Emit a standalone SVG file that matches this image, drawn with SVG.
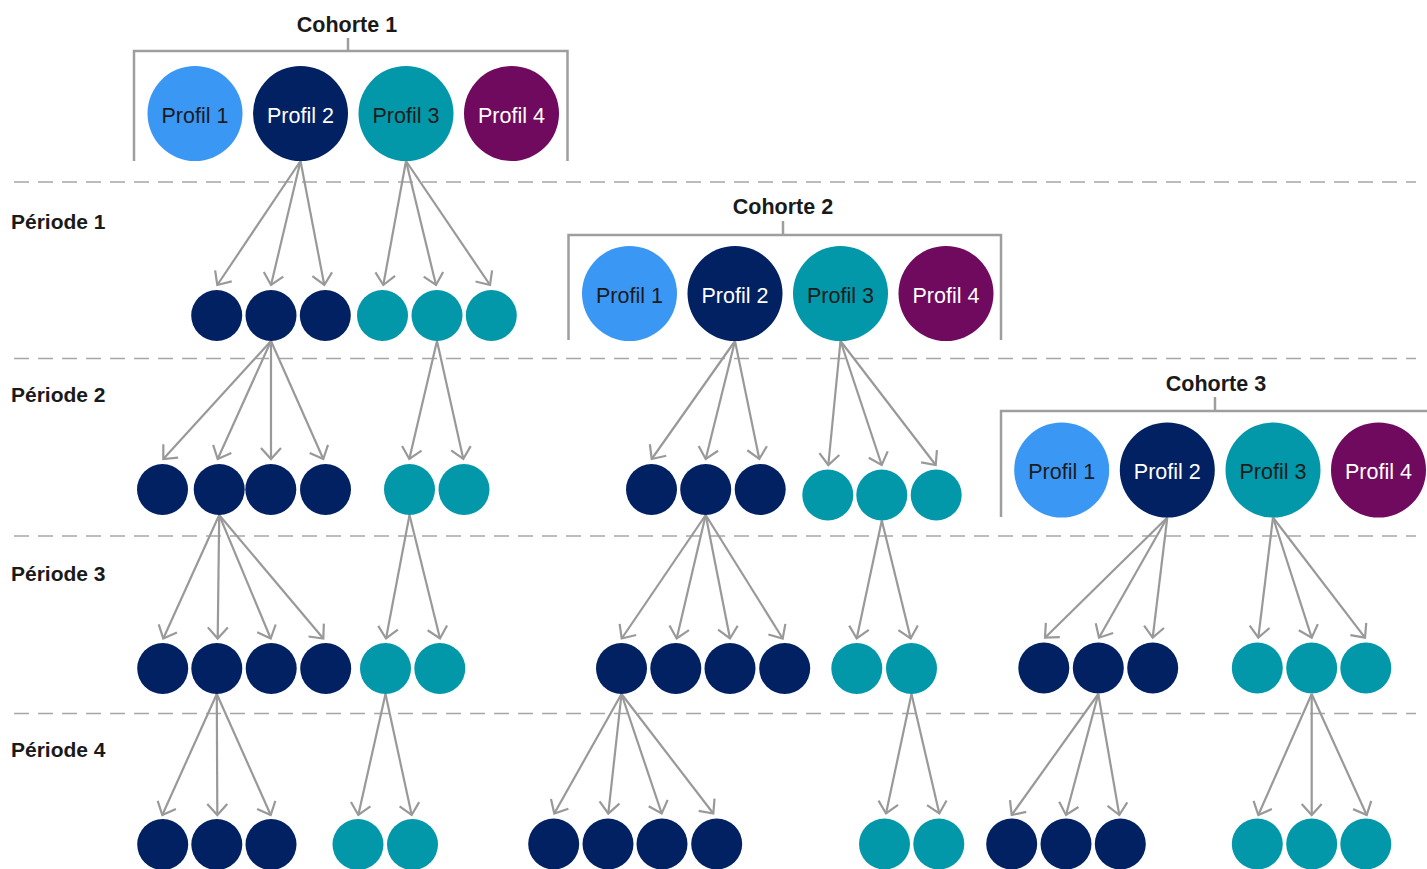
<svg xmlns="http://www.w3.org/2000/svg" width="1427" height="869" viewBox="0 0 1427 869">
<style>
.bg{fill:#ffffff}
.title{font-family:"Liberation Sans",Arial,sans-serif;font-weight:bold;font-size:21.5px;fill:#1a1a1a;text-anchor:middle}
.period{font-family:"Liberation Sans",Arial,sans-serif;font-weight:bold;font-size:21px;fill:#1a1a1a}
.lbl{font-family:"Liberation Sans",Arial,sans-serif;font-size:21.5px;text-anchor:middle}
.dk{fill:#1c1c1c}
.wt{fill:#ffffff}
.p1{fill:#3a97f4}
.p2{fill:#012162}
.p3{fill:#0297a9}
.p4{fill:#700a5e}
.sep{stroke:#a6a6a6;stroke-width:1.5;stroke-dasharray:15 9;fill:none}
.br{stroke:#9e9e9e;stroke-width:2.5;fill:none}
.ar{stroke:#999999;stroke-width:2.2;fill:none;marker-end:url(#ah)}
</style>
<defs>
<marker id="ah" markerUnits="userSpaceOnUse" viewBox="-14 -13 17 26" refX="0" refY="0" markerWidth="17" markerHeight="26" orient="auto" overflow="visible">
<path d="M-11,-10 L0,0 L-11,10" stroke="#999999" stroke-width="2.2" fill="none"/>
</marker>
</defs>
<rect class="bg" x="0" y="0" width="1427" height="869"/>

<g id="separators">
<line class="sep" x1="14" y1="182" x2="1416" y2="182"/>
<line class="sep" x1="14" y1="358.5" x2="1416" y2="358.5"/>
<line class="sep" x1="14" y1="536" x2="1416" y2="536"/>
<line class="sep" x1="14" y1="713.5" x2="1416" y2="713.5"/>
</g>

<g id="periods">
<text class="period" x="11" y="229">Période 1</text>
<text class="period" x="11" y="402">Période 2</text>
<text class="period" x="11" y="581">Période 3</text>
<text class="period" x="11" y="757">Période 4</text>
</g>

<g id="cohorte1">
<text class="title" x="347" y="31.5">Cohorte 1</text>
<path class="br" d="M348,38 V51 M134,161 V51 H567.5 V161"/>
</g>
<g id="cohorte2">
<text class="title" x="783" y="214">Cohorte 2</text>
<path class="br" d="M783,221 V235 M568.5,340 V235 H1001 V340"/>
</g>
<g id="cohorte3">
<text class="title" x="1216" y="391">Cohorte 3</text>
<path class="br" d="M1215,397 V411 M1001,517 V411 H1430"/>
</g>

<g id="connectors">
<line class="ar" x1="300.5" y1="161" x2="217.3" y2="285"/>
<line class="ar" x1="300.5" y1="161" x2="271" y2="285"/>
<line class="ar" x1="300.5" y1="161" x2="324.3" y2="285"/>
<line class="ar" x1="406" y1="161" x2="383.3" y2="285"/>
<line class="ar" x1="406" y1="161" x2="436" y2="285"/>
<line class="ar" x1="406" y1="161" x2="490" y2="285"/>

<line class="ar" x1="271" y1="341" x2="163.3" y2="459"/>
<line class="ar" x1="271" y1="341" x2="217.7" y2="459"/>
<line class="ar" x1="271" y1="341" x2="271" y2="459"/>
<line class="ar" x1="271" y1="341" x2="323.3" y2="459"/>
<line class="ar" x1="437" y1="341" x2="409.3" y2="459"/>
<line class="ar" x1="437" y1="341" x2="463.3" y2="459"/>

<line class="ar" x1="735" y1="341" x2="651.7" y2="459"/>
<line class="ar" x1="735" y1="341" x2="705.7" y2="459"/>
<line class="ar" x1="735" y1="341" x2="759.3" y2="459"/>
<line class="ar" x1="840.5" y1="341" x2="828.3" y2="465"/>
<line class="ar" x1="840.5" y1="341" x2="881.7" y2="465"/>
<line class="ar" x1="840.5" y1="341" x2="935.7" y2="465"/>

<line class="ar" x1="219.2" y1="515" x2="163.3" y2="638.5"/>
<line class="ar" x1="219.2" y1="515" x2="217.7" y2="638.5"/>
<line class="ar" x1="219.2" y1="515" x2="270.7" y2="638.5"/>
<line class="ar" x1="219.2" y1="515" x2="323.3" y2="638.5"/>
<line class="ar" x1="409.5" y1="515" x2="386" y2="638.5"/>
<line class="ar" x1="409.5" y1="515" x2="440" y2="638.5"/>

<line class="ar" x1="705.7" y1="515" x2="621.7" y2="638.5"/>
<line class="ar" x1="705.7" y1="515" x2="676.7" y2="638.5"/>
<line class="ar" x1="705.7" y1="515" x2="730" y2="638.5"/>
<line class="ar" x1="705.7" y1="515" x2="782.7" y2="638.5"/>
<line class="ar" x1="881.8" y1="520.5" x2="856.7" y2="638.5"/>
<line class="ar" x1="881.8" y1="520.5" x2="910.7" y2="638.5"/>

<line class="ar" x1="1167.3" y1="517.5" x2="1045" y2="637.7"/>
<line class="ar" x1="1167.3" y1="517.5" x2="1099" y2="637.7"/>
<line class="ar" x1="1167.3" y1="517.5" x2="1152.7" y2="637.7"/>
<line class="ar" x1="1273" y1="517.5" x2="1258.3" y2="637.7"/>
<line class="ar" x1="1273" y1="517.5" x2="1311.7" y2="637.7"/>
<line class="ar" x1="1273" y1="517.5" x2="1365" y2="637.7"/>

<line class="ar" x1="216.8" y1="694" x2="162.3" y2="815"/>
<line class="ar" x1="216.8" y1="694" x2="217.3" y2="815"/>
<line class="ar" x1="216.8" y1="694" x2="270.7" y2="815"/>
<line class="ar" x1="385.5" y1="694" x2="358.3" y2="815"/>
<line class="ar" x1="385.5" y1="694" x2="411.7" y2="815"/>

<line class="ar" x1="621.5" y1="694" x2="554.3" y2="813.5"/>
<line class="ar" x1="621.5" y1="694" x2="608.3" y2="813.5"/>
<line class="ar" x1="621.5" y1="694" x2="661.7" y2="813.5"/>
<line class="ar" x1="621.5" y1="694" x2="713.3" y2="813.5"/>
<line class="ar" x1="911.5" y1="694" x2="886" y2="813.5"/>
<line class="ar" x1="911.5" y1="694" x2="939.3" y2="813.5"/>

<line class="ar" x1="1098.3" y1="694" x2="1011.7" y2="815"/>
<line class="ar" x1="1098.3" y1="694" x2="1066" y2="815"/>
<line class="ar" x1="1098.3" y1="694" x2="1119.3" y2="815"/>
<line class="ar" x1="1311.7" y1="694" x2="1258.3" y2="815"/>
<line class="ar" x1="1311.7" y1="694" x2="1311.7" y2="815"/>
<line class="ar" x1="1311.7" y1="694" x2="1366.7" y2="815"/>
</g>

<g id="c1-profil1"><circle class="p1" cx="195" cy="113.5" r="47.5"/><text class="lbl dk" x="195" y="122.5">Profil 1</text></g>
<g id="c1-profil2"><circle class="p2" cx="300.5" cy="113.5" r="47.5"/><text class="lbl wt" x="300.5" y="122.5">Profil 2</text></g>
<g id="c1-profil3"><circle class="p3" cx="406" cy="113.5" r="47.5"/><text class="lbl dk" x="406" y="122.5">Profil 3</text></g>
<g id="c1-profil4"><circle class="p4" cx="511.5" cy="113.5" r="47.5"/><text class="lbl wt" x="511.5" y="122.5">Profil 4</text></g>

<g id="c2-profil1"><circle class="p1" cx="629.5" cy="293.5" r="47.5"/><text class="lbl dk" x="629.5" y="302.5">Profil 1</text></g>
<g id="c2-profil2"><circle class="p2" cx="735" cy="293.5" r="47.5"/><text class="lbl wt" x="735" y="302.5">Profil 2</text></g>
<g id="c2-profil3"><circle class="p3" cx="840.5" cy="293.5" r="47.5"/><text class="lbl dk" x="840.5" y="302.5">Profil 3</text></g>
<g id="c2-profil4"><circle class="p4" cx="946" cy="293.5" r="47.5"/><text class="lbl wt" x="946" y="302.5">Profil 4</text></g>

<g id="c3-profil1"><circle class="p1" cx="1061.7" cy="470" r="47.5"/><text class="lbl dk" x="1061.7" y="479">Profil 1</text></g>
<g id="c3-profil2"><circle class="p2" cx="1167.3" cy="470" r="47.5"/><text class="lbl wt" x="1167.3" y="479">Profil 2</text></g>
<g id="c3-profil3"><circle class="p3" cx="1273" cy="470" r="47.5"/><text class="lbl dk" x="1273" y="479">Profil 3</text></g>
<g id="c3-profil4"><circle class="p4" cx="1378.5" cy="470" r="47.5"/><text class="lbl wt" x="1378.5" y="479">Profil 4</text></g>

<g id="p1-c1-nodes">
<circle class="p2" cx="216.7" cy="315.5" r="25.5"/>
<circle class="p2" cx="271" cy="315.5" r="25.5"/>
<circle class="p2" cx="325.3" cy="315.5" r="25.5"/>
<circle class="p3" cx="382.5" cy="315.5" r="25.5"/>
<circle class="p3" cx="437" cy="315.5" r="25.5"/>
<circle class="p3" cx="491.3" cy="315.5" r="25.5"/>
</g>

<g id="p2-c1-nodes">
<circle class="p2" cx="162.5" cy="489.5" r="25.5"/>
<circle class="p2" cx="219.2" cy="489.5" r="25.5"/>
<circle class="p2" cx="270.8" cy="489.5" r="25.5"/>
<circle class="p2" cx="325.5" cy="489.5" r="25.5"/>
<circle class="p3" cx="409.5" cy="489.5" r="25.5"/>
<circle class="p3" cx="464" cy="489.5" r="25.5"/>
</g>
<g id="p2-c2-nodes">
<circle class="p2" cx="651.5" cy="489.5" r="25.5"/>
<circle class="p2" cx="705.7" cy="489.5" r="25.5"/>
<circle class="p2" cx="760.2" cy="489.5" r="25.5"/>
<circle class="p3" cx="827.8" cy="495" r="25.5"/>
<circle class="p3" cx="881.8" cy="495" r="25.5"/>
<circle class="p3" cx="936.2" cy="495" r="25.5"/>
</g>

<g id="p3-c1-nodes">
<circle class="p2" cx="162.7" cy="668.5" r="25.5"/>
<circle class="p2" cx="216.8" cy="668.5" r="25.5"/>
<circle class="p2" cx="271.2" cy="668.5" r="25.5"/>
<circle class="p2" cx="325.7" cy="668.5" r="25.5"/>
<circle class="p3" cx="385.5" cy="668.5" r="25.5"/>
<circle class="p3" cx="439.8" cy="668.5" r="25.5"/>
</g>
<g id="p3-c2-nodes">
<circle class="p2" cx="621.5" cy="668.5" r="25.5"/>
<circle class="p2" cx="675.8" cy="668.5" r="25.5"/>
<circle class="p2" cx="730" cy="668.5" r="25.5"/>
<circle class="p2" cx="784.7" cy="668.5" r="25.5"/>
<circle class="p3" cx="856.8" cy="668.5" r="25.5"/>
<circle class="p3" cx="911.5" cy="668.5" r="25.5"/>
</g>
<g id="p3-c3-nodes">
<circle class="p2" cx="1043.8" cy="668" r="25.5"/>
<circle class="p2" cx="1098.3" cy="668" r="25.5"/>
<circle class="p2" cx="1152.7" cy="668" r="25.5"/>
<circle class="p3" cx="1257.3" cy="668" r="25.5"/>
<circle class="p3" cx="1311.7" cy="668" r="25.5"/>
<circle class="p3" cx="1365.8" cy="668" r="25.5"/>
</g>

<g id="p4-c1-nodes">
<circle class="p2" cx="162.7" cy="844.5" r="25.5"/>
<circle class="p2" cx="216.8" cy="844.5" r="25.5"/>
<circle class="p2" cx="271" cy="844.5" r="25.5"/>
<circle class="p3" cx="358" cy="844.5" r="25.5"/>
<circle class="p3" cx="412.5" cy="844.5" r="25.5"/>
</g>
<g id="p4-c2-nodes">
<circle class="p2" cx="553.7" cy="844" r="25.5"/>
<circle class="p2" cx="608" cy="844" r="25.5"/>
<circle class="p2" cx="662" cy="844" r="25.5"/>
<circle class="p2" cx="716.7" cy="844" r="25.5"/>
<circle class="p3" cx="884.5" cy="844" r="25.5"/>
<circle class="p3" cx="938.8" cy="844" r="25.5"/>
</g>
<g id="p4-c3-nodes">
<circle class="p2" cx="1011.7" cy="844" r="25.5"/>
<circle class="p2" cx="1066" cy="844" r="25.5"/>
<circle class="p2" cx="1120.3" cy="844" r="25.5"/>
<circle class="p3" cx="1257.3" cy="844" r="25.5"/>
<circle class="p3" cx="1311.7" cy="844" r="25.5"/>
<circle class="p3" cx="1365.8" cy="844" r="25.5"/>
</g>
</svg>
